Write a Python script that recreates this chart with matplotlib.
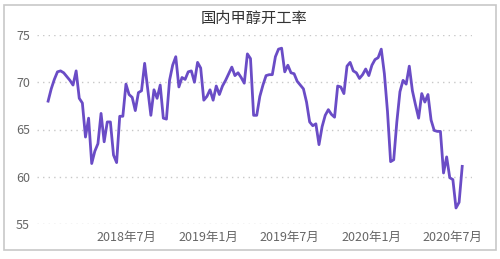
import matplotlib
matplotlib.use("Agg")
import matplotlib.pyplot as plt
import matplotlib.dates as mdates
import pandas as pd
from matplotlib.patches import Rectangle

plt.rcParams['font.family'] = ['Noto Sans CJK SC', 'DejaVu Sans']

title = "国内甲醇开工率"
start_date = "2018-01-05"
values = [
    68.0, 69.3, 70.3, 71.1, 71.2, 71.0, 70.6, 70.2, 69.7, 71.2,
    68.3, 67.8, 64.2, 66.2, 61.4, 62.7, 63.5, 66.7, 63.7, 65.8,
    65.8, 62.3, 61.5, 66.4, 66.4, 69.8, 68.7, 68.4, 67.0, 68.9,
    69.1, 72.0, 69.2, 66.5, 69.2, 68.3, 69.7, 66.2, 66.1, 70.2,
    71.8, 72.7, 69.5, 70.5, 70.3, 71.1, 71.2, 70.0, 72.1, 71.5,
    68.1, 68.5, 69.2, 68.1, 69.6, 68.7, 69.6, 70.2, 70.9, 71.6,
    70.7, 71.0, 70.5, 69.9, 73.0, 72.5, 66.5, 66.5, 68.5, 69.7,
    70.7, 70.8, 70.8, 72.7, 73.5, 73.6, 71.1, 71.8, 71.0, 70.9,
    70.1, 69.7, 69.3, 67.9, 65.8, 65.4, 65.6, 63.4, 65.3, 66.5,
    67.1, 66.6, 66.3, 69.6, 69.5, 68.8, 71.7, 72.1, 71.2, 71.0,
    70.4, 70.8, 71.4, 70.7, 71.8, 72.4, 72.6, 73.5, 70.9, 66.9,
    61.6, 61.8, 65.8, 69.0, 70.2, 69.8, 71.7, 69.1, 67.6, 66.2,
    68.8, 67.9, 68.7, 66.0, 64.9, 64.8, 64.8, 60.4, 62.1, 59.9,
    59.7, 56.7, 57.3, 61.1,
]
dates = pd.date_range(start_date, periods=len(values), freq="7D")
tick_dates = ["2018-07-01", "2019-01-01", "2019-07-01", "2020-01-01", "2020-07-01"]
tick_labels = ["2018年7月", "2019年1月", "2019年7月", "2020年1月", "2020年7月"]
y_ticks = [55, 60, 65, 70, 75]

fig = plt.figure(figsize=(5.0, 2.59), dpi=100)
fig.patches.append(Rectangle((0.008, 0.035), 0.984, 0.945, transform=fig.transFigure,
                             fill=False, edgecolor="#c8c8c8", linewidth=1.2))
ax = fig.add_axes([0.074, 0.135, 0.870, 0.730])
ax.plot(dates, values, color="#6a4cc6", linewidth=2.0, solid_joinstyle="round")
ax.set_ylim(55, 75)
ax.set_xlim(pd.Timestamp("2017-12-11"), pd.Timestamp("2020-08-15"))
ax.set_yticks(y_ticks)
ax.set_xticks(pd.to_datetime(tick_dates))
ax.set_xticklabels(tick_labels)
ax.grid(axis="y", linestyle=(0, (1, 3)), color="#c8c8c8", linewidth=1.0)
ax.grid(axis="x", visible=False)
for s in ax.spines.values():
    s.set_visible(False)
ax.tick_params(axis="both", length=0, labelsize=9, colors="#666666")
ax.tick_params(axis="y", pad=5)
ax.tick_params(axis="x", pad=5)
ax.set_title(title, fontsize=11, color="#333333", pad=9)
fig.savefig("out.png", dpi=100)
